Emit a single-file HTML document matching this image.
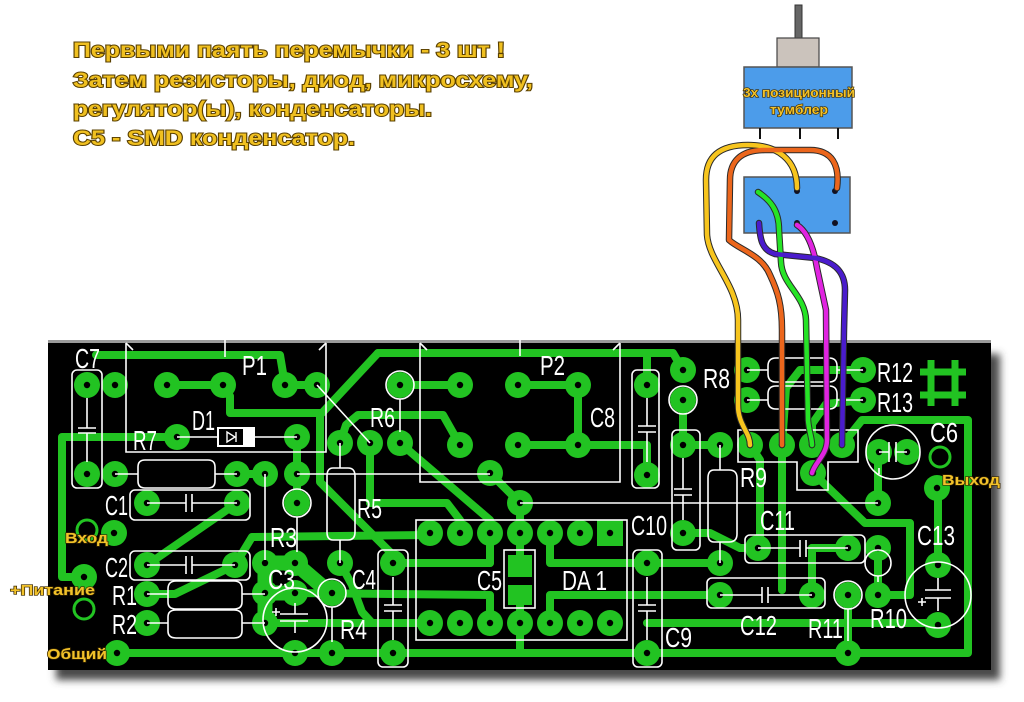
<!DOCTYPE html>
<html><head><meta charset="utf-8"><style>
html,body{margin:0;padding:0;background:#fff;}
body{width:1024px;height:702px;overflow:hidden;}
svg{display:block;}
.lb{font-family:"Liberation Sans Narrow","Liberation Sans",sans-serif;font-size:28px;fill:#fff;}
.yl{font-family:"Liberation Sans",sans-serif;font-weight:bold;fill:#f2c22a;stroke:#3a2800;stroke-width:1.3px;paint-order:stroke;}
.top{font-family:"Liberation Sans",sans-serif;font-weight:bold;font-size:21px;fill:#f0c020;stroke:#5a4000;stroke-width:2px;paint-order:stroke;}
</style></head><body>
<svg width="1024" height="702" viewBox="0 0 1024 702" xmlns="http://www.w3.org/2000/svg">
<defs>
<filter id="sh" x="-10%" y="-10%" width="120%" height="130%"><feGaussianBlur stdDeviation="4"/></filter>
<g id="p"><circle r="13" fill="#22c322"/><circle r="3.2" fill="#000"/></g>
</defs>

<!-- top text -->
<text class="top" x="73" y="57" textLength="432" lengthAdjust="spacingAndGlyphs">Первыми паять перемычки - 3 шт !</text>
<text class="top" x="73" y="87" textLength="460" lengthAdjust="spacingAndGlyphs">Затем резисторы, диод, микросхему,</text>
<text class="top" x="73" y="116" textLength="359" lengthAdjust="spacingAndGlyphs">регулятор(ы), конденсаторы.</text>
<text class="top" x="73" y="145" textLength="282" lengthAdjust="spacingAndGlyphs">C5 - SMD конденсатор.</text>

<!-- switch -->
<rect x="795" y="5" width="7" height="33" fill="#666" stroke="#333" stroke-width="1"/>
<rect x="777" y="38" width="42" height="29" fill="#cbc3bc" stroke="#444" stroke-width="1.2"/>
<rect x="744" y="67" width="108" height="61" fill="#4c9cea" stroke="#555" stroke-width="1.5"/>
<text class="yl" x="743" y="97" font-size="13" textLength="112" lengthAdjust="spacingAndGlyphs">3х позиционный</text>
<text class="yl" x="770" y="114" font-size="13" textLength="58" lengthAdjust="spacingAndGlyphs">тумблер</text>
<line x1="760" y1="128" x2="760" y2="139" stroke="#111" stroke-width="2"/>
<line x1="800" y1="128" x2="800" y2="139" stroke="#111" stroke-width="2"/>
<line x1="838" y1="128" x2="838" y2="139" stroke="#111" stroke-width="2"/>
<rect x="744" y="177" width="106" height="56" fill="#4c9cea" stroke="#555" stroke-width="1.5"/>
<g fill="#112"><circle cx="797" cy="191" r="3"/><circle cx="835" cy="191" r="3"/><circle cx="759" cy="223" r="3"/><circle cx="797" cy="223" r="3"/><circle cx="835" cy="223" r="3"/></g>

<!-- board -->
<rect x="56" y="354" width="944" height="326" fill="#4a4a4a" filter="url(#sh)"/>
<rect x="48" y="340" width="943" height="330" fill="#000"/>
<rect x="48" y="340" width="943" height="3" fill="#9a9a9a"/>

<!-- traces -->
<g fill="none" stroke="#22c322" stroke-width="8" stroke-linecap="round" stroke-linejoin="round">
<path d="M96,355 L280,355 L285,385"/>
<path d="M285,385 L317,385"/>
<path d="M167,385 L223,385 L230,396 L230,413 L320,413 L320,482 L390,552 L400,563 L490,563"/>
<path d="M378,353 L322,413"/>
<path d="M378,353 L673,353 L683,370"/>
<path d="M647,353 L647,385"/>
<path d="M177,437 L62,437 L62,577 L87,577"/>
<path d="M297,437 L297,503"/>
<path d="M237,474 L265,474"/>
<path d="M237,503 L147,565"/>
<path d="M147,594 L175,594 L235,565 L252,537 L430,535"/>
<path d="M265,623 L430,623"/>
<path d="M295,593 L490,595 L490,623"/>
<path d="M340,563 L352,585 L362,612 L372,623"/>
<path d="M340,443 L346,425 L358,415 L443,415 L460,445"/>
<path d="M370,443 L370,503 L447,503 L460,520 L460,533"/>
<path d="M400,443 L490,520 L490,533"/>
<path d="M490,473 L520,503 L520,533"/>
<path d="M400,385 L460,385"/>
<path d="M518,385 L578,385 L578,445"/>
<path d="M518,445 L647,445 L647,475"/>
<path d="M490,533 L490,563"/>
<path d="M520,533 L520,556"/>
<path d="M520,600 L520,653"/>
<path d="M550,533 L550,563 L720,563"/>
<path d="M550,623 L550,595 L720,595"/>
<path d="M683,533 L710,533 L740,548 L758,548"/>
<path d="M683,400 L683,445 L720,445"/>
<path d="M750,445 L760,460 L760,548"/>
<path d="M782,445 L782,590"/>
<path d="M812,548 L848,548"/>
<path d="M812,548 L812,595"/>
<path d="M813,473 L865,523 L910,523 L910,595 L878,595"/>
<path d="M842,445 L862,420 L968,420 L968,653 L117,653"/>
<path d="M878,452 L878,503"/>
<path d="M938,488 L938,565"/>
<path d="M647,623 L938,623"/>
<path d="M878,548 L878,595"/>
<path d="M848,595 L848,653"/>
<path d="M863,370 L800,370 L786,388 L782,445"/>
<path d="M863,400 L826,404 L812,424 L812,445"/>
<path d="M520,623 L520,653"/>
</g>
<g fill="none" stroke="#22c322" stroke-width="15" stroke-linecap="round" stroke-linejoin="round">
<path d="M265,563 L295,563 L330,593"/>
<path d="M265,563 L265,623"/>
<path d="M265,593 L295,593"/>
</g>
<!-- hash symbol -->
<g stroke="#22c322" stroke-width="7">
<line x1="931" y1="360" x2="931" y2="406"/><line x1="955" y1="360" x2="955" y2="406"/>
<line x1="920" y1="372" x2="966" y2="372"/><line x1="920" y1="395" x2="966" y2="395"/>
</g>
<!-- rings -->
<g fill="none" stroke="#22c322" stroke-width="3">
<circle cx="87" cy="530" r="10"/><circle cx="84" cy="609" r="10"/><circle cx="940" cy="457" r="10"/>
</g>
<!-- C5 smd -->
<rect x="508" y="555" width="24" height="22" fill="#22c322"/>
<rect x="508" y="585" width="24" height="20" fill="#22c322"/>
<rect x="597" y="520" width="26" height="26" fill="#22c322"/>

<!-- pads -->
<use href="#p" x="87" y="385"/><use href="#p" x="115" y="385"/><use href="#p" x="167" y="385"/><use href="#p" x="223" y="385"/><use href="#p" x="285" y="385"/><use href="#p" x="317" y="385"/>
<use href="#p" x="177" y="437"/><use href="#p" x="297" y="437"/>
<use href="#p" x="87" y="474"/><use href="#p" x="115" y="474"/><use href="#p" x="237" y="474"/><use href="#p" x="265" y="474"/><use href="#p" x="297" y="474"/>
<use href="#p" x="147" y="503"/><use href="#p" x="237" y="503"/><use href="#p" x="297" y="503"/>
<use href="#p" x="114" y="533"/><use href="#p" x="84" y="577"/><use href="#p" x="117" y="653"/>
<use href="#p" x="147" y="565"/><use href="#p" x="235" y="565"/><use href="#p" x="147" y="594"/><use href="#p" x="147" y="623"/>
<use href="#p" x="265" y="563"/><use href="#p" x="295" y="563"/><use href="#p" x="265" y="593"/><use href="#p" x="295" y="593"/><use href="#p" x="265" y="623"/><use href="#p" x="295" y="653"/><use href="#p" x="332" y="653"/><use href="#p" x="332" y="593"/><use href="#p" x="340" y="563"/>
<use href="#p" x="340" y="443"/><use href="#p" x="370" y="443"/><use href="#p" x="400" y="443"/><use href="#p" x="400" y="385"/>
<use href="#p" x="460" y="385"/><use href="#p" x="518" y="385"/><use href="#p" x="578" y="385"/><use href="#p" x="460" y="445"/><use href="#p" x="518" y="445"/><use href="#p" x="578" y="445"/>
<use href="#p" x="490" y="473"/><use href="#p" x="520" y="503"/>
<use href="#p" x="430" y="533"/><use href="#p" x="460" y="533"/><use href="#p" x="490" y="533"/><use href="#p" x="520" y="533"/><use href="#p" x="550" y="533"/><use href="#p" x="580" y="533"/>
<use href="#p" x="430" y="623"/><use href="#p" x="460" y="623"/><use href="#p" x="490" y="623"/><use href="#p" x="520" y="623"/><use href="#p" x="550" y="623"/><use href="#p" x="580" y="623"/><use href="#p" x="610" y="623"/>
<circle cx="610" cy="533" r="3.2" fill="#000"/>
<use href="#p" x="393" y="563"/><use href="#p" x="393" y="653"/><use href="#p" x="647" y="385"/><use href="#p" x="647" y="475"/><use href="#p" x="647" y="563"/><use href="#p" x="647" y="653"/>
<use href="#p" x="683" y="370"/><use href="#p" x="683" y="400"/><use href="#p" x="683" y="445"/><use href="#p" x="720" y="445"/><use href="#p" x="683" y="533"/><use href="#p" x="720" y="563"/>
<use href="#p" x="747" y="370"/><use href="#p" x="747" y="400"/><use href="#p" x="863" y="370"/><use href="#p" x="863" y="400"/>
<use href="#p" x="750" y="445"/><use href="#p" x="782" y="445"/><use href="#p" x="812" y="445"/><use href="#p" x="842" y="445"/><use href="#p" x="813" y="473"/>
<use href="#p" x="879" y="452"/><use href="#p" x="907" y="452"/><use href="#p" x="878" y="503"/><use href="#p" x="937" y="488"/>
<use href="#p" x="758" y="548"/><use href="#p" x="848" y="548"/><use href="#p" x="720" y="595"/><use href="#p" x="812" y="595"/><use href="#p" x="848" y="595"/><use href="#p" x="848" y="653"/><use href="#p" x="878" y="548"/><use href="#p" x="878" y="595"/><use href="#p" x="938" y="565"/><use href="#p" x="938" y="625"/>

<!-- silkscreen -->
<g fill="none" stroke="#fff" stroke-width="1.6">
<path d="M126,343 L126,452 L326,452 L326,343"/>
<path d="M126,343 L133,350 M326,343 L319,350 M225,340 L225,357"/>
<path d="M420,343 L420,482 L620,482 L620,343"/>
<path d="M420,343 L427,350 M620,343 L613,350 M520,340 L520,356"/>
<rect x="72" y="370" width="30" height="118" rx="5"/>
<path d="M87,398 L87,428 M78,428 L96,428 M78,433 L96,433 M87,433 L87,462"/>
<path d="M177,437 L217,437 M255,437 L297,437"/>
<path d="M115,474 L138,474 M215,474 L237,474"/>
<path d="M145,460 L208,460 Q215,460 215,467 L215,481 Q215,488 208,488 L145,488 Q138,488 138,481 L138,467 Q138,460 145,460 Z"/>
<rect x="130" y="490" width="120" height="30" rx="5"/>
<path d="M147,503 L186,503 M186,494 L186,512 M192,494 L192,512 M192,503 L237,503"/>
<rect x="130" y="551" width="120" height="29" rx="5"/>
<path d="M147,565 L186,565 M186,556 L186,574 M192,556 L192,574 M192,565 L235,565"/>
<path d="M147,594 L168,594 M242,594 L265,594 M147,623 L168,623 M242,623 L265,623"/>
<path d="M176,581 L234,581 Q242,581 242,589 L242,602 Q242,609 234,609 L176,609 Q168,609 168,602 L168,589 Q168,581 176,581 Z"/>
<path d="M176,610 L234,610 Q242,610 242,617 L242,631 Q242,638 234,638 L176,638 Q168,638 168,631 L168,617 Q168,610 176,610 Z"/>
<circle cx="297" cy="503" r="14"/>
<path d="M297,517 L297,552 M265,474 L265,560"/>
<path d="M297,474 L490,474 M520,503 L878,503"/>
<path d="M317,385 L370,443"/>
<path d="M340,443 L340,468 M340,540 L340,563"/>
<path d="M333,468 L348,468 Q355,468 355,476 L355,532 Q355,540 348,540 L333,540 Q327,540 327,532 L327,476 Q327,468 333,468 Z"/>
<circle cx="400" cy="385" r="14"/>
<path d="M400,399 L400,432"/>
<circle cx="332" cy="593" r="14"/>
<path d="M332,607 L332,642"/>
<circle cx="295" cy="620" r="32"/>
<path d="M280,614 L308,614 M280,621 L308,621 M295,603 L295,614 M295,621 L295,633 M272,612 L280,612 M276,608 L276,616"/>
<rect x="378" y="550" width="30" height="117" rx="5"/>
<path d="M393,577 L393,605 M384,605 L402,605 M384,611 L402,611 M393,611 L393,640"/>
<rect x="416" y="520" width="211" height="120"/>
<rect x="504" y="550" width="31" height="58"/>
<rect x="632" y="370" width="27" height="118" rx="5"/>
<path d="M647,398 L647,426 M638,426 L656,426 M638,432 L656,432 M647,432 L647,462"/>
<rect x="633" y="550" width="29" height="117" rx="5"/>
<path d="M647,577 L647,605 M638,605 L656,605 M638,611 L656,611 M647,611 L647,640"/>
<rect x="672" y="430" width="28" height="120" rx="5"/>
<path d="M683,458 L683,489 M674,489 L692,489 M674,495 L692,495 M683,495 L683,520"/>
<path d="M720,445 L720,470 M720,542 L720,563"/>
<path d="M714,470 L729,470 Q737,470 737,478 L737,534 Q737,542 729,542 L714,542 Q708,542 708,534 L708,478 Q708,470 714,470 Z"/>
<circle cx="683" cy="400" r="14"/>
<path d="M747,370 L768,370 M837,370 L863,370 M747,400 L768,400 M837,400 L863,400"/>
<path d="M776,358 L829,358 Q837,358 837,366 L837,374 Q837,382 829,382 L776,382 Q768,382 768,374 L768,366 Q768,358 776,358 Z"/>
<path d="M776,386 L829,386 Q837,386 837,394 L837,401 Q837,409 829,409 L776,409 Q768,409 768,401 L768,394 Q768,386 776,386 Z"/>
<path d="M738,430 L858,430 L858,462 L828,462 L828,490 L797,490 L797,462 L738,462 Z"/>
<circle cx="893" cy="452" r="27"/>
<path d="M889,442 L889,462 M896,442 L896,462 M879,452 L889,452 M896,452 L907,452 M879,468 L879,474"/>
<rect x="745" y="535" width="120" height="28" rx="5"/>
<path d="M758,548 L800,548 M800,540 L800,557 M806,540 L806,557 M806,548 L848,548"/>
<rect x="707" y="578" width="118" height="30" rx="5"/>
<path d="M720,595 L762,595 M762,587 L762,603 M768,587 L768,603 M768,595 L812,595"/>
<circle cx="848" cy="595" r="14"/>
<path d="M848,609 L848,641"/>
<circle cx="878" cy="563" r="13"/>
<path d="M878,576 L878,582"/>
<circle cx="938" cy="595" r="33"/>
<path d="M925,590 L951,590 M925,598 L951,598 M938,578 L938,590 M938,598 L938,611 M918,602 L926,602 M922,598 L922,606"/>
</g>
<rect x="217" y="427" width="38" height="20" fill="#fff"/>
<rect x="219" y="429" width="24" height="16" fill="#000"/>
<path d="M227,432 L227,442 L235,437 Z M236,432 L236,442" fill="none" stroke="#fff" stroke-width="1.4"/>

<!-- labels -->
<g class="lb">
<text x="75" y="368" textLength="25" lengthAdjust="spacingAndGlyphs">C7</text>
<text x="242" y="375" textLength="25" lengthAdjust="spacingAndGlyphs">P1</text>
<text x="192" y="430" textLength="23" lengthAdjust="spacingAndGlyphs">D1</text>
<text x="133" y="450" textLength="24" lengthAdjust="spacingAndGlyphs">R7</text>
<text x="105" y="515" textLength="23" lengthAdjust="spacingAndGlyphs">C1</text>
<text x="105" y="577" textLength="23" lengthAdjust="spacingAndGlyphs">C2</text>
<text x="112" y="605" textLength="25" lengthAdjust="spacingAndGlyphs">R1</text>
<text x="112" y="634" textLength="25" lengthAdjust="spacingAndGlyphs">R2</text>
<text x="270" y="547" textLength="27" lengthAdjust="spacingAndGlyphs">R3</text>
<text x="268" y="589" textLength="27" lengthAdjust="spacingAndGlyphs">C3</text>
<text x="352" y="589" textLength="24" lengthAdjust="spacingAndGlyphs">C4</text>
<text x="340" y="639" textLength="27" lengthAdjust="spacingAndGlyphs">R4</text>
<text x="357" y="518" textLength="25" lengthAdjust="spacingAndGlyphs">R5</text>
<text x="370" y="427" textLength="25" lengthAdjust="spacingAndGlyphs">R6</text>
<text x="540" y="375" textLength="25" lengthAdjust="spacingAndGlyphs">P2</text>
<text x="590" y="427" textLength="25" lengthAdjust="spacingAndGlyphs">C8</text>
<text x="477" y="590" textLength="25" lengthAdjust="spacingAndGlyphs">C5</text>
<text x="562" y="590" textLength="45" lengthAdjust="spacingAndGlyphs">DA 1</text>
<text x="631" y="535" textLength="36" lengthAdjust="spacingAndGlyphs">C10</text>
<text x="665" y="647" textLength="27" lengthAdjust="spacingAndGlyphs">C9</text>
<text x="703" y="388" textLength="27" lengthAdjust="spacingAndGlyphs">R8</text>
<text x="740" y="487" textLength="27" lengthAdjust="spacingAndGlyphs">R9</text>
<text x="760" y="530" textLength="35" lengthAdjust="spacingAndGlyphs">C11</text>
<text x="740" y="635" textLength="37" lengthAdjust="spacingAndGlyphs">C12</text>
<text x="808" y="638" textLength="35" lengthAdjust="spacingAndGlyphs">R11</text>
<text x="870" y="628" textLength="37" lengthAdjust="spacingAndGlyphs">R10</text>
<text x="917" y="545" textLength="38" lengthAdjust="spacingAndGlyphs">C13</text>
<text x="930" y="442" textLength="28" lengthAdjust="spacingAndGlyphs">C6</text>
<text x="877" y="382" textLength="36" lengthAdjust="spacingAndGlyphs">R12</text>
<text x="877" y="412" textLength="36" lengthAdjust="spacingAndGlyphs">R13</text>
</g>
<g class="yl" font-size="15">
<text x="65" y="543" textLength="43" lengthAdjust="spacingAndGlyphs">Вход</text>
<text x="10" y="595" textLength="85" lengthAdjust="spacingAndGlyphs">+Питание</text>
<text x="47" y="659" textLength="60" lengthAdjust="spacingAndGlyphs">Общий</text>
<text x="942" y="485" textLength="58" lengthAdjust="spacingAndGlyphs">Выход</text>
</g>

<!-- wires -->
<g fill="none" stroke-linecap="round" stroke-linejoin="round">
<g stroke="#2a2a2a" stroke-width="6.5">
<path d="M797,188 C797,160 778,145 748,145 C718,145 706,158 706,180 L707,235 C709,262 738,285 738,320 L738,405 C738,425 750,432 750,445"/>
<path d="M837,188 C840,165 832,150 810,150 L765,150 C740,150 730,162 730,180 L729,240 C740,250 762,255 770,275 C778,292 782,305 782,330 L782,445"/>
<path d="M758,192 C770,200 779,210 779,230 L781,262 C782,285 805,295 806,320 L808,420 C809,432 812,438 812,445"/>
<path d="M797,225 C808,232 814,250 817,268 L826,310 L827,440 C827,455 815,462 812,473"/>
<path d="M759,223 C760,240 762,250 775,254 L815,258 C835,262 845,272 845,290 L844,330 L842,445"/>
</g>
<path stroke="#f7c51e" stroke-width="4.5" d="M797,188 C797,160 778,145 748,145 C718,145 706,158 706,180 L707,235 C709,262 738,285 738,320 L738,405 C738,425 750,432 750,445"/>
<path stroke="#ec661c" stroke-width="4.5" d="M837,188 C840,165 832,150 810,150 L765,150 C740,150 730,162 730,180 L729,240 C740,250 762,255 770,275 C778,292 782,305 782,330 L782,445"/>
<path stroke="#26e426" stroke-width="4.5" d="M758,192 C770,200 779,210 779,230 L781,262 C782,285 805,295 806,320 L808,420 C809,432 812,438 812,445"/>
<path stroke="#e024e0" stroke-width="4.5" d="M797,225 C808,232 814,250 817,268 L826,310 L827,440 C827,455 815,462 812,473"/>
<path stroke="#4a1ccc" stroke-width="4.5" d="M759,223 C760,240 762,250 775,254 L815,258 C835,262 845,272 845,290 L844,330 L842,445"/>
</g>
</svg>
</body></html>
